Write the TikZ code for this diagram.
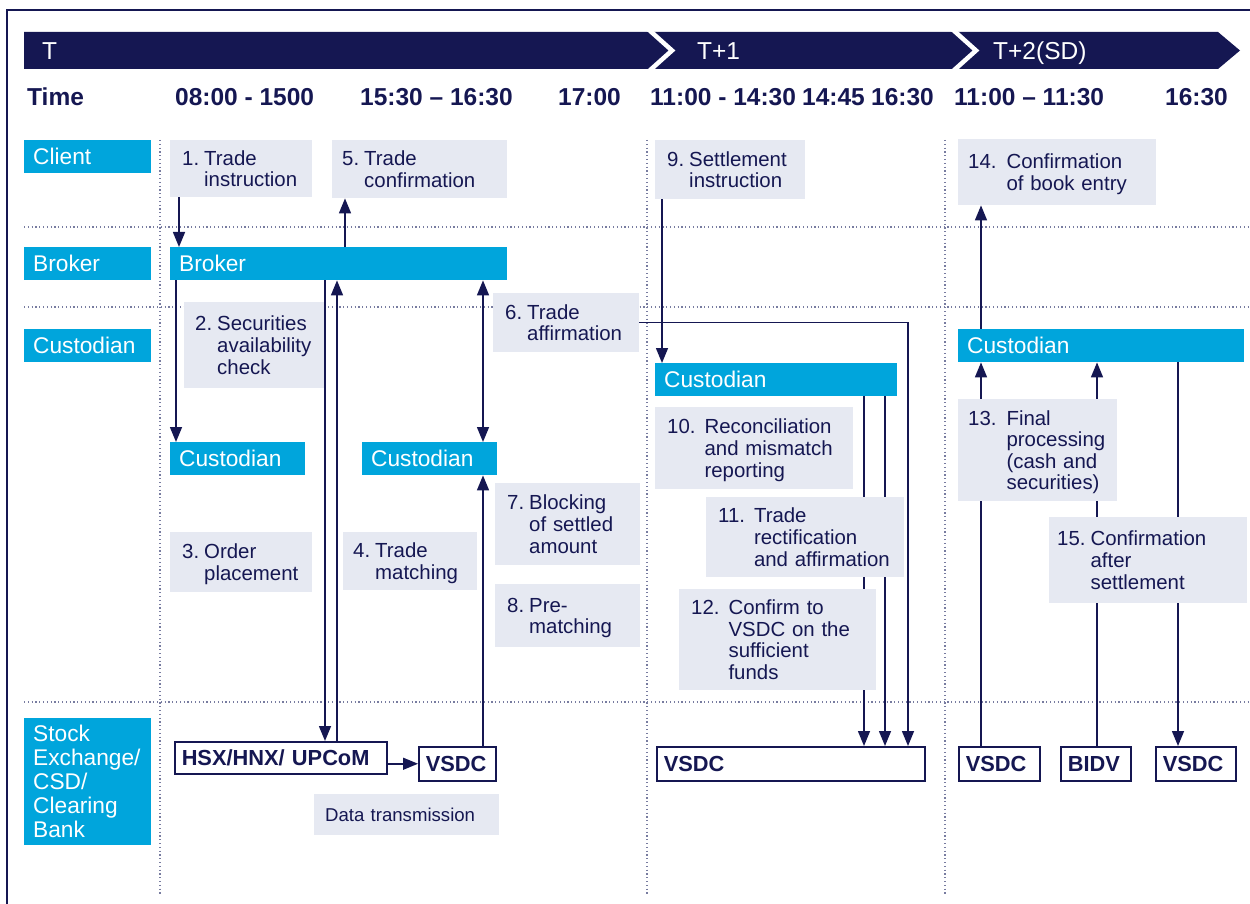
\documentclass[tikz,border=0pt]{standalone}
\usepackage{fontspec}
\setmainfont{Liberation Sans}
\usepackage{xcolor}
\usetikzlibrary{arrows.meta}
\definecolor{navy}{RGB}{21,23,82}
\definecolor{lanecyan}{RGB}{0,165,220}
\definecolor{notegray}{RGB}{230,233,242}
\definecolor{gridgray}{RGB}{120,124,160}
\newcommand{\numtext}[3][5pt]{\begin{tabular}[t]{@{}l@{\hspace{#1}}l@{}}\rule{0pt}{21pt}#2&#3\end{tabular}}

\begin{document}
\begin{tikzpicture}[
        x=1pt, y=-1pt,
        >={Triangle[length=15pt,width=12pt]},
        flow/.style={draw=navy, line width=1.5pt},
        gridline/.style={draw=gridgray, line width=1.2pt, dash pattern=on 1.2pt off 2.6pt},
        lane/.style={
            fill=lanecyan,
            text=white,
            anchor=north west,
            inner xsep=9pt,
            inner ysep=0pt,
            minimum height=33pt,
            align=left,
            font=\fontsize{22.7}{24}\selectfont
        },
        note/.style={
            fill=notegray,
            text=navy,
            anchor=north west,
            inner xsep=12pt,
            inner ysep=0pt,
            align=left,
            font=\fontsize{20.4}{21.6}\selectfont
        },
        venue/.style={
            draw=navy,
            line width=1.5pt,
            fill=white,
            text=navy,
            anchor=north west,
            inner xsep=7pt,
            inner ysep=0pt,
            minimum height=34pt,
            align=left,
            font=\bfseries\fontsize{21.8}{24}\selectfont
        },
        hour/.style={anchor=base west, text=navy, inner sep=0pt, font=\bfseries\fontsize{24.5}{28}\selectfont},
        day/.style={anchor=base west, text=white, inner sep=0pt, font=\fontsize{24.5}{28}\selectfont}
    ]
    \useasboundingbox (0,0) rectangle (1250,904);
    \draw[navy, line width=1.3pt] (7,904) -- (7,10) -- (1250,10);

    \fill[navy] (24,32) -- (1218,32) -- (1240,50.5) -- (1218,69) -- (24,69) -- cycle;
    \draw[white, line width=4.5pt] (648,29) -- (672,50.5) -- (648,72);
    \draw[white, line width=4.5pt] (952,29) -- (976,50.5) -- (952,72);
    \node[day] (dT) at (42,60) {T};
    \node[day] (dT1) at (697,60) {T+1};
    \node[day] (dT2) at (993,60) {T+2(SD)};

    \node[hour] (time) at (27,106) {Time};
    \node[hour] (h1) at (175,106) {08:00 - 1500};
    \node[hour] (h2) at (360,106) {15:30 -- 16:30};
    \node[hour] (h3) at (558,106) {17:00};
    \node[hour] (h4) at (650,106) {11:00 - 14:30};
    \node[hour] (h5) at (802,106) {14:45};
    \node[hour] (h6) at (871,106) {16:30};
    \node[hour] (h7) at (954,106) {11:00 -- 11:30};
    \node[hour] (h8) at (1165,106) {16:30};

    \foreach \y in {227,307,702}
        \draw[gridline] (24,\y) -- (1250,\y);
    \foreach \x in {160,647,945}
        \draw[gridline] (\x,140) -- (\x,895);

    \node[lane, text width=109pt] (client) at (24,140) {Client};
    \node[lane, text width=109pt] (brokerlane) at (24,247) {Broker};
    \node[lane, text width=109pt] (custlane) at (24,329) {Custodian};
    \node[lane, text width=109pt, minimum height=127pt] (sxlane) at (24,718)
        {Stock\\Exchange/\\CSD/\\Clearing\\Bank};

    \node[lane, text width=319pt] (broker) at (170,247) {Broker};
    \node[lane, text width=117pt] (custL) at (170,442) {Custodian};
    \node[lane, text width=117pt] (custM) at (362,442) {Custodian};
    \node[lane, text width=224pt] (custA) at (655,363) {Custodian};
    \node[lane, text width=268pt] (custB) at (958,329) {Custodian};

    \node[venue, text width=198pt, minimum height=32pt] (hsx) at (174,741) {HSX/HNX/ UPCoM};
    \node[venue, text width=63pt] (vsdcA) at (418,746) {VSDC};
    \node[venue, text width=254pt] (vsdcB) at (656,746) {VSDC};
    \node[venue, text width=67pt] (vsdcC) at (958,746) {VSDC};
    \node[venue, text width=56pt] (bidv) at (1060,746) {BIDV};
    \node[venue, text width=66pt] (vsdcD) at (1155,746) {VSDC};

    \node[note, text width=118pt, minimum height=57pt] (n1) at (170,140) {\numtext{1.}{Trade\\&instruction}};
    \node[note, text width=155pt, minimum height=58pt, inner xsep=10pt] (n5) at (332,140) {\numtext{5.}{Trade\\&confirmation}};
    \node[note, text width=120pt, minimum height=86pt, inner xsep=11pt] (n2) at (184,302) {\numtext{2.}{Securities\\&availability\\&check}};
    \node[note, text width=122pt, minimum height=59pt] (n6) at (493,293) {\numtext{6.}{Trade\\&affirmation}};
    \node[note, text width=118pt, minimum height=60pt] (n3) at (170,532) {\numtext{3.}{Order\\&placement}};
    \node[note, text width=114pt, minimum height=58pt, inner xsep=10pt] (n4) at (343,532) {\numtext{4.}{Trade\\&matching}};
    \node[note, text width=121pt, minimum height=82pt] (n7) at (495,483) {\numtext{7.}{Blocking\\&of settled\\&amount}};
    \node[note, text width=121pt, minimum height=63pt] (n8) at (495,584) {\numtext{8.}{Pre-\\&matching}};
    \node[note, text width=163pt, minimum height=41pt, inner xsep=11pt, font=\fontsize{18.6}{21}\selectfont] (data) at (314,794) {Data transmission};
    \node[note, text width=126pt, minimum height=59pt] (n9) at (655,140) {\numtext{9.}{Settlement\\&instruction}};
    \node[note, text width=178pt, minimum height=66pt, inner xsep=10pt] (n14) at (958,139) {\numtext[10pt]{14.}{Confirmation\\&of book entry}};

    \draw[flow, ->] ([xshift=9pt]n1.south west) -- ([xshift=9pt]n1.south west |- broker.north);
    \draw[flow, ->] ([xshift=13pt]n5.south west |- broker.north) -- ([xshift=13pt]n5.south west);
    \draw[flow, ->] ([xshift=6pt]custL.north west |- broker.south) -- ([xshift=6pt]custL.north west);
    \draw[flow, ->] ([xshift=151pt]hsx.north west |- broker.south) -- ([xshift=151pt]hsx.north west);
    \draw[flow, ->] ([xshift=163pt]hsx.north west) -- ([xshift=163pt]hsx.north west |- broker.south);
    \draw[flow, <->] ([xshift=121pt]custM.north west |- broker.south) -- ([xshift=121pt]custM.north west);
    \draw[flow, ->] ([xshift=65pt]vsdcA.north west) -- ([xshift=65pt]vsdcA.north west |- custM.south);
    \draw[flow, ->] (hsx.east |- vsdcA.west) -- (vsdcA.west);
    \draw[flow, ->] (n6.east) -| ([xshift=252pt]vsdcB.north west);
    \draw[flow, ->] ([xshift=7pt]n9.south west) -- ([xshift=7pt]n9.south west |- custA.north);
    \foreach \dx in {208,229}
        \draw[flow, ->] ([xshift=\dx pt]vsdcB.north west |- custA.south) -- ([xshift=\dx pt]vsdcB.north west);
    \draw[flow, ->] ([xshift=23pt]custB.north west) -- ([xshift=23pt]custB.north west |- n14.south);
    \draw[flow, ->] ([xshift=23pt]vsdcC.north west) -- ([xshift=23pt]vsdcC.north west |- custB.south);
    \draw[flow, ->] ([xshift=37pt]bidv.north west) -- ([xshift=37pt]bidv.north west |- custB.south);
    \draw[flow, ->] ([xshift=23pt]vsdcD.north west |- custB.south) -- ([xshift=23pt]vsdcD.north west);

    \node[note, text width=174pt, minimum height=82pt] (n10) at (655,407) {\numtext[9pt]{10.}{Reconciliation\\&and mismatch\\&reporting}};
    \node[note, text width=174pt, minimum height=80pt] (n11) at (706,497) {\numtext[9pt]{11.}{Trade\\&rectification\\&and affirmation}};
    \node[note, text width=173pt, minimum height=101pt] (n12) at (679,589) {\numtext[9pt]{12.}{Confirm to\\&VSDC on the\\&sufficient\\&funds}};
    \node[note, text width=139pt, minimum height=102pt, inner xsep=10pt] (n13) at (958,399) {\numtext[10pt]{13.}{Final\\&processing\\&(cash and\\&securities)}};
    \node[note, text width=182pt, minimum height=86pt, inner xsep=8pt] (n15) at (1049,517) {\numtext{15.}{Confirmation\\&after\\&settlement}};
\end{tikzpicture}
\end{document}
